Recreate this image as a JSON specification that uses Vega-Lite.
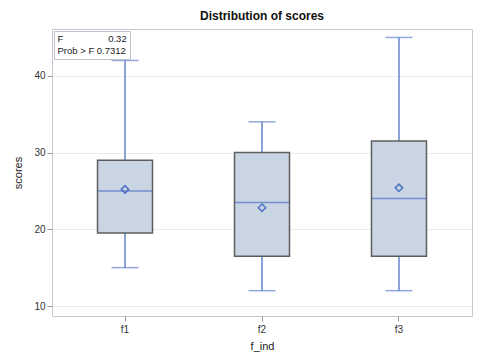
{
  "$schema": "https://vega.github.io/schema/vega-lite/v6.json",
  "width": 420,
  "height": 287,
  "autosize": {"type": "none"},
  "padding": {"left": 52, "top": 29, "right": 13, "bottom": 48},
  "background": "white",
  "title": {"text": "Distribution of scores", "fontSize": 12, "fontWeight": "bold", "font": "Liberation Sans", "color": "#111", "offset": 6, "anchor": "middle"},
  "config": {
    "font": "Liberation Sans",
    "view": {"stroke": "#c3c9d3", "strokeWidth": 1},
    "axis": {"labelFontSize": 10, "titleFontSize": 11, "labelColor": "#333", "titleColor": "#222", "titleFontWeight": "normal", "tickColor": "#999", "domain": false}
  },
  "datasets": {
    "stats": [
      {"f_ind": "f1", "lower": 15, "q1": 19.5, "median": 25, "q3": 29, "upper": 42, "mean": 25.2},
      {"f_ind": "f2", "lower": 12, "q1": 16.5, "median": 23.5, "q3": 30, "upper": 34, "mean": 22.8},
      {"f_ind": "f3", "lower": 12, "q1": 16.5, "median": 24, "q3": 31.5, "upper": 45, "mean": 25.4}
    ],
    "ftest": [
      {"stat": "F\u00a0\u00a0\u00a0\u00a0\u00a0\u00a0\u00a0\u00a0\u00a0\u00a0\u00a0\u00a0\u00a0\u00a0\u00a0\u00a0\u00a00.32"},
      {"stat": "Prob > F\u00a00.7312"}
    ]
  },
  "encoding": {
    "x": {"field": "f_ind", "type": "nominal", "scale": {"paddingInner": 0, "paddingOuter": 0.033}, "axis": {"labelAngle": 0, "title": "f_ind", "grid": false, "tickSize": 5, "labelPadding": 3, "titlePadding": 6}}
  },
  "layer": [
    {
      "data": {"name": "stats"},
      "mark": {"type": "rule", "color": "#6384cc", "strokeWidth": 1.5},
      "encoding": {
        "y": {"field": "lower", "type": "quantitative", "scale": {"domain": [8.7, 46.1], "nice": false, "zero": false}, "axis": {"title": "scores", "values": [10, 20, 30, 40], "grid": true, "gridColor": "#ececec", "tickSize": 5, "titlePadding": 10}},
        "y2": {"field": "upper"}
      }
    },
    {
      "data": {"name": "stats"},
      "mark": {"type": "tick", "color": "#6384cc", "size": 27, "thickness": 1.5},
      "encoding": {"y": {"field": "lower", "type": "quantitative"}}
    },
    {
      "data": {"name": "stats"},
      "mark": {"type": "tick", "color": "#6384cc", "size": 27, "thickness": 1.5},
      "encoding": {"y": {"field": "upper", "type": "quantitative"}}
    },
    {
      "data": {"name": "stats"},
      "mark": {"type": "bar", "size": 55, "fill": "#cad5e3", "stroke": "#5e5e5e", "strokeWidth": 1.5},
      "encoding": {"y": {"field": "q1", "type": "quantitative"}, "y2": {"field": "q3"}}
    },
    {
      "data": {"name": "stats"},
      "mark": {"type": "tick", "color": "#4f71c4", "size": 54, "thickness": 1.5},
      "encoding": {"y": {"field": "median", "type": "quantitative"}}
    },
    {
      "data": {"name": "stats"},
      "mark": {"type": "point", "shape": "diamond", "filled": false, "size": 55, "stroke": "#4f71c4", "strokeWidth": 1.5, "opacity": 1},
      "encoding": {"y": {"field": "mean", "type": "quantitative"}}
    },
    {
      "data": {"name": "ftest"},
      "mark": {"type": "point", "opacity": 0, "size": 0, "strokeWidth": 0},
      "encoding": {
        "x": {"datum": "f1"},
        "y": {"datum": 20},
        "color": {"field": "stat", "type": "nominal", "sort": null, "scale": {"range": ["#ffffff", "#ffffff"]},
          "legend": {"title": null, "orient": "top-left", "offset": 2, "padding": 3, "strokeColor": "#bfc4cc", "fillColor": "white", "symbolSize": 0, "symbolStrokeWidth": 0, "symbolOpacity": 0, "labelOffset": -9, "labelFontSize": 9.5, "labelColor": "#222", "rowPadding": 1.5, "symbolType": "circle"}}
      }
    }
  ]
}
